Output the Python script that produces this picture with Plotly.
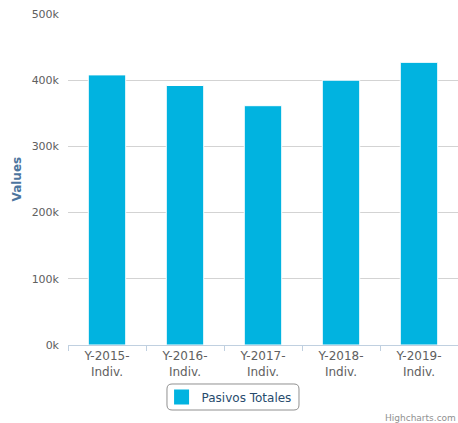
import plotly.graph_objects as go

# Pasivos totales por año (individual)
categories = ["Y-2015-<br>Indiv.", "Y-2016-<br>Indiv.", "Y-2017-<br>Indiv.",
              "Y-2018-<br>Indiv.", "Y-2019-<br>Indiv."]
pasivos_totales = [408000, 392000, 361500, 400000, 427000]
y_ticks = [0, 100000, 200000, 300000, 400000, 500000]
y_tick_labels = ["0k", "100k", "200k", "300k", "400k", "500k"]

FONT = "DejaVu Sans"
BAR_COLOR = "#01b3e0"

fig = go.Figure()
fig.add_trace(go.Bar(
    x=categories,
    y=pasivos_totales,
    name="Pasivos Totales",
    showlegend=False,
    marker=dict(color=BAR_COLOR, line=dict(color="#ffffff", width=1)),
))
# Legend entry with a larger square swatch
fig.add_trace(go.Scatter(
    x=[None], y=[None],
    mode="markers",
    name="Pasivos Totales",
    marker=dict(symbol="square", size=15, color=BAR_COLOR),
    showlegend=True,
))

fig.update_layout(
    width=458,
    height=423,
    margin=dict(l=68, r=0, t=14, b=78),
    paper_bgcolor="white",
    plot_bgcolor="white",
    font=dict(family=FONT, size=11, color="#606060"),
    bargap=0.52,
    showlegend=True,
    legend=dict(
        orientation="h",
        x=0.413, xanchor="center",
        y=-0.157, yanchor="middle",
        font=dict(family=FONT, size=12, color="#274b6d"),
        bgcolor="rgba(0,0,0,0)",
        borderwidth=0,
        itemsizing="trace",
        itemwidth=30,
    ),
    xaxis=dict(
        type="category",
        tickson="boundaries",
        ticks="outside",
        ticklen=5,
        tickcolor="#c0d0e0",
        showline=True,
        linecolor="#c0d0e0",
        linewidth=1,
        showgrid=False,
        tickfont=dict(family=FONT, size=12, color="#606060"),
        fixedrange=True,
    ),
    yaxis=dict(
        range=[0, 500000],
        tickvals=y_ticks,
        ticktext=y_tick_labels,
        showgrid=True,
        gridcolor="#d3d3d3",
        gridwidth=1,
        zeroline=False,
        showline=False,
        ticks="",
        ticklabelstandoff=8,
        tickfont=dict(family=FONT, size=11, color="#606060"),
        fixedrange=True,
    ),
)

# Axis title
fig.add_annotation(
    text="<b>Values</b>", textangle=-90,
    xref="paper", yref="paper", x=0, y=0.5,
    xanchor="center", yanchor="middle", xshift=-52,
    showarrow=False,
    font=dict(family=FONT, size=12, color="#4d759e"),
)

# Rounded legend frame
x0, x1, y0, y1 = 0.2538, 0.5923, -0.1964, -0.1178
fig.add_shape(
    type="path", xref="paper", yref="paper",
    path=(f"M {x0+0.013},{y1} L {x1-0.013},{y1} Q {x1},{y1} {x1},{y1-0.015} "
          f"L {x1},{y0+0.015} Q {x1},{y0} {x1-0.013},{y0} "
          f"L {x0+0.013},{y0} Q {x0},{y0} {x0},{y0+0.015} "
          f"L {x0},{y1-0.015} Q {x0},{y1} {x0+0.013},{y1} Z"),
    line=dict(color="#909090", width=1),
    fillcolor="rgba(0,0,0,0)",
    layer="below",
)

# Credits
fig.add_annotation(
    text="Highcharts.com",
    xref="paper", yref="paper", x=1, y=-0.2205,
    xanchor="right", yanchor="middle",
    showarrow=False,
    font=dict(family=FONT, size=9, color="#909090"),
)

fig.write_html("out.html", config={"displayModeBar": False})
